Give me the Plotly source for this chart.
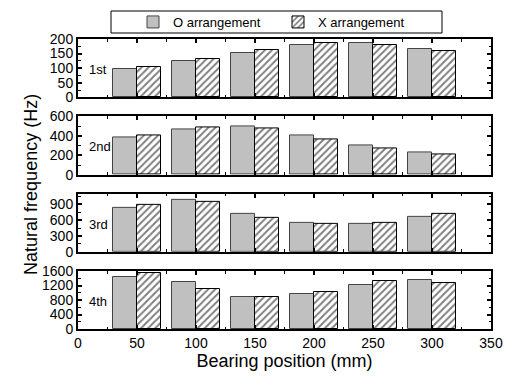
import plotly.graph_objects as go

positions = [50, 100, 150, 200, 250, 300]
modes = ["1st", "2nd", "3rd", "4th"]
o_arr = [
    [97, 124, 152, 180, 185, 165],
    [380, 464, 502, 400, 298, 230],
    [837, 995, 729, 551, 539, 672],
    [1448, 1295, 895, 962, 1219, 1362],
]
x_arr = [
    [104, 132, 161, 185, 178, 159],
    [407, 485, 475, 363, 271, 214],
    [894, 957, 653, 526, 558, 729],
    [1550, 1095, 876, 1029, 1324, 1276],
]
y_ranges = [[0, 200], [0, 600], [0, 1100], [0, 1600]]
y_dtick = [50, 200, 300, 400]
domains = [[0.799, 1.0], [0.532, 0.733], [0.266, 0.466], [0.0, 0.2]]

FONT = "Liberation Sans, Arial, sans-serif"
fig = go.Figure()

for i in range(4):
    ax = "" if i == 0 else str(i + 1)
    fig.add_trace(go.Bar(
        x=positions, y=o_arr[i], name="O arrangement", offset=-20, width=20,
        marker=dict(color="#c0c0c0", line=dict(color="#444444", width=1)),
        xaxis="x" + ax, yaxis="y" + ax, showlegend=(i == 0), legendgroup="o"))
    fig.add_trace(go.Bar(
        x=positions, y=x_arr[i], name="X arrangement", offset=0, width=20,
        marker=dict(color="white", line=dict(color="black", width=1),
                    pattern=dict(shape="/", fgcolor="black", bgcolor="white", size=5, solidity=0.4)),
        xaxis="x" + ax, yaxis="y" + ax, showlegend=(i == 0), legendgroup="x"))
    fig.add_annotation(text=modes[i], x=8, y=(y_ranges[i][1]) * 0.48,
                       xref="x" + ax, yref="y" + ax, xanchor="left", yanchor="middle",
                       showarrow=False, font=dict(size=13, family=FONT, color="black"))

axis_common = dict(showline=True, linecolor="black", linewidth=2, mirror="ticks",
                   ticks="inside", ticklen=4, tickwidth=1.5, tickcolor="black",
                   showgrid=False, zeroline=False,
                   tickfont=dict(size=14, family=FONT, color="black"))

W, H = 515, 376
ML, MR, MT, MB = 78, 24, 39, 47
PW, PH = W - ML - MR, H - MT - MB


def px_x(p):
    return (p - ML) / PW


def px_y(p):
    return (H - MB - p) / PH


layout = dict(
    width=W, height=H,
    margin=dict(l=ML, r=MR, t=MT, b=MB, autoexpand=False),
    paper_bgcolor="white", plot_bgcolor="white",
    barmode="overlay", bargap=0,
    font=dict(family=FONT, color="black"),
    legend=dict(orientation="h", x=px_x(133), xanchor="left", y=px_y(22), yanchor="middle",
                borderwidth=0, bgcolor="rgba(0,0,0,0)",
                font=dict(size=13, family=FONT, color="black"),
                entrywidth=100, entrywidthmode="pixels", itemwidth=30, tracegroupgap=0),
    shapes=[dict(type="rect", xref="paper", yref="paper",
                 x0=px_x(111), x1=px_x(442), y0=px_y(33), y1=px_y(11),
                 line=dict(color="black", width=1), fillcolor="white", layer="below")],
)
for i in range(4):
    ax = "" if i == 0 else str(i + 1)
    layout["xaxis" + ax] = dict(axis_common, range=[0, 350], dtick=50, tick0=0,
                                anchor="y" + ax, showticklabels=(i == 3),
                                minor=dict(dtick=25, ticklen=2.5, tickwidth=1, ticks="inside", tickcolor="black"),
                                **({} if i == 0 else {"matches": "x"}))
    layout["yaxis" + ax] = dict(axis_common, range=y_ranges[i], dtick=y_dtick[i], tick0=0,
                                domain=domains[i], anchor="x" + ax,
                                minor=dict(dtick=y_dtick[i] / 2, ticklen=2.5, tickwidth=1, ticks="inside", tickcolor="black"))
layout["xaxis4"]["title"] = dict(text="Bearing position (mm)", font=dict(size=18, family=FONT), standoff=0)
fig.update_layout(**layout)

fig.add_annotation(text="Natural frequency (Hz)", xref="paper", yref="paper",
                   x=-0.114, y=0.5, textangle=-90, showarrow=False,
                   xanchor="center", yanchor="middle",
                   font=dict(size=18, family=FONT, color="black"))

fig.write_html("out.html", config={"displayModeBar": False},
               post_script="document.body.style.margin='0px';document.body.style.overflow='hidden';")
